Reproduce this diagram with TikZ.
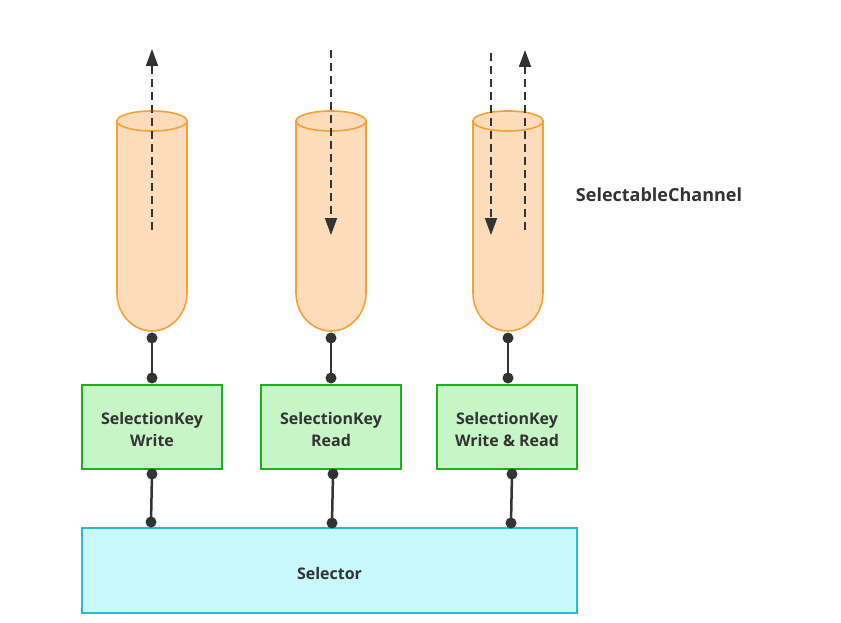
\documentclass[tikz,border=0pt]{standalone}
\usepackage{fontspec}
\setmainfont{Open Sans}
\usetikzlibrary{arrows.meta}
\definecolor{cylfill}{HTML}{FDDCBC}
\definecolor{cylline}{HTML}{F7A035}
\definecolor{keyfill}{HTML}{C6F6C6}
\definecolor{keyline}{HTML}{1FAE1F}
\definecolor{selfill}{HTML}{C8F8FC}
\definecolor{selline}{HTML}{22BDD0}
\definecolor{ink}{HTML}{333333}
\tikzset{
  cyl/.style={draw=cylline, fill=cylfill, line width=1.6pt},
  keybox/.style={draw=keyline, fill=keyfill, line width=1.6pt, minimum width=140pt, minimum height=84pt, inner sep=0pt},
  keytext/.style={align=center, inner sep=0pt, font=\bfseries\fontsize{16}{22}\selectfont, text=ink},
  selbox/.style={draw=selline, fill=selfill, line width=1.6pt, minimum width=495pt, minimum height=85pt, inner sep=0pt},
  flow/.style={draw=ink, line width=1.8pt, dash pattern=on 8pt off 5pt, -{Triangle[length=17pt,width=12pt]}},
  link/.style={draw=ink, line width=2.5pt},
  dot/.style={circle, fill=ink, inner sep=0pt, minimum size=11pt},
}
\newcommand{\mycyl}[1]{%
  \path[cyl] (#1-35,121) -- (#1-35,293) .. controls (#1-35,314) and (#1-19.3,331) .. (#1,331)
     .. controls (#1+19.3,331) and (#1+35,314) .. (#1+35,293) -- (#1+35,121) -- cycle;
  \path[cyl] (#1,121) ellipse [x radius=35pt, y radius=10pt];
}
\begin{document}
\begin{tikzpicture}[x=1pt,y=-1pt]
\useasboundingbox (0,0) rectangle (841,623);
% cylinders
\mycyl{152}
\mycyl{331}
\mycyl{508}
% flow arrows
\coordinate (a1s) at (152,230); \coordinate (a1e) at (152,49);
\coordinate (a2s) at (331,50);  \coordinate (a2e) at (331,235);
\coordinate (a3s) at (491,53);  \coordinate (a3e) at (491,235);
\coordinate (a4s) at (525,230); \coordinate (a4e) at (525,50);
\draw[flow] (a1s) -- (a1e);
\draw[flow] (a2s) -- (a2e);
\draw[flow] (a3s) -- (a3e);
\draw[flow] (a4s) -- (a4e);
% label
\node[font=\bfseries\fontsize{18}{22}\selectfont, text=ink] (lab) at (659,195) {SelectableChannel};
% keys
\node[keybox] (k1) at (152,427) {}; \node[keytext] (k1l) at (152,429) {SelectionKey\\Write};
\node[keybox] (k2) at (331,427) {}; \node[keytext] (k2l) at (331,429) {SelectionKey\\Read};
\node[keybox] (k3) at (507,427) {}; \node[keytext] (k3l) at (507,429) {SelectionKey\\Write \& Read};
% selector
\node[selbox] (sel) at (329.5,570.5) {}; \node[keytext] (sell) at (329.5,573) {Selector};
% dots
\node[dot] (c1b) at (152,338) {}; \node[dot] (k1t) at (152,378) {};
\node[dot] (c2b) at (331,338) {}; \node[dot] (k2t) at (331,378) {};
\node[dot] (c3b) at (508,338) {}; \node[dot] (k3t) at (508,378) {};
\node[dot] (k1b) at (152,474) {}; \node[dot] (s1) at (151,522) {};
\node[dot] (k2b) at (333,474) {}; \node[dot] (s2) at (332,523) {};
\node[dot] (k3b) at (512,474) {}; \node[dot] (s3) at (511,523) {};
\draw[link] (c1b.center) -- (k1t.center);
\draw[link] (c2b.center) -- (k2t.center);
\draw[link] (c3b.center) -- (k3t.center);
\draw[link] (k1b.center) -- (s1.center);
\draw[link] (k2b.center) -- (s2.center);
\draw[link] (k3b.center) -- (s3.center);
\end{tikzpicture}
\end{document}
